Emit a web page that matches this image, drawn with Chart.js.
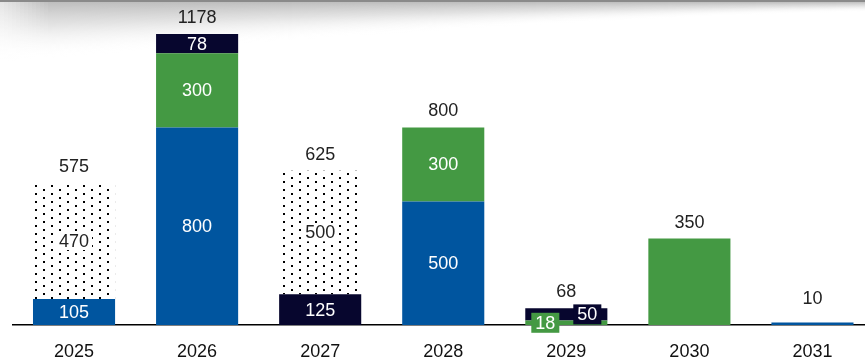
<!DOCTYPE html>
<html>
<head>
  <title>Stacked volumes by year</title>
  <script src="https://cdn.jsdelivr.net/npm/chart.js"></script>
  <style>
    html, body { margin: 0; padding: 0; background: #fff; overflow: hidden; }
    #wrap { position: relative; width: 874px; height: 360px; }
  </style>
</head>
<body>
  <div id="wrap"><canvas id="myChart"></canvas></div>

  <script>
// Datos (de abajo hacia arriba en cada barra)
const years = ['2025', '2026', '2027', '2028', '2029', '2030', '2031'];
const blueVals = [105, 800, null, 500, null, null, 10];
const greenVals = [null, 300, null, 300, 18, 350, null];
const navyVals = [null, 78, 125, null, 50, null, null];
const dottedVals = [470, null, 500, null, null, null, null];
const totals = [575, 1178, 625, 800, 68, 350, 10];

const FONT = '"Liberation Sans", Arial, sans-serif';

// patrón de puntos para el segmento punteado
function dotPattern() {
  const c = document.createElement('canvas');
  c.width = 16; c.height = 8;
  const g = c.getContext('2d');
  g.fillStyle = '#fff';
  g.fillRect(0, 0, 16, 8);
  g.fillStyle = '#000';
  g.fillRect(3, 1, 2, 2);
  g.fillRect(11, 5, 2, 2);
  return g.createPattern(c, 'repeat');
}

// sombra gris arriba (efecto papel)
const shadowPlugin = {
  id: 'shadow',
  beforeDraw(chart) {
    const ctx = chart.ctx;
    const w = chart.width;
    ctx.save();
    for (let x = 0; x < w; x += 4) {
      const t = x / 865;
      const h = 10 + 50 * Math.pow(Math.max(0, 1 - t), 1.4);
      const edge = Math.min(1, 0.4 + x / 80);
      const a = 0.45 * edge;
      const grad = ctx.createLinearGradient(0, 2, 0, 2 + h);
      grad.addColorStop(0, 'rgba(110,110,110,' + a + ')');
      grad.addColorStop(0.4, 'rgba(150,150,150,' + (a * 0.6) + ')');
      grad.addColorStop(1, 'rgba(255,255,255,0)');
      ctx.fillStyle = grad;
      ctx.fillRect(x, 2, 4, h);
    }
    ctx.fillStyle = '#8a8a8a';
    ctx.fillRect(0, 0, w, 2);
    ctx.restore();
  }
};

// etiquetas de valores y totales
const labelPlugin = {
  id: 'labels',
  afterDatasetsDraw(chart) {
    const ctx = chart.ctx;
    const yBase = chart.scales.y.getPixelForValue(0);
    ctx.save();
    ctx.font = '18px ' + FONT;
    ctx.textAlign = 'center';
    ctx.textBaseline = 'middle';
    years.forEach((yr, i) => {
      const segs = [];
      chart.data.datasets.forEach((ds, d) => {
        const v = ds.data[i];
        if (v == null) return;
        segs.push({ d, v, el: chart.getDatasetMeta(d).data[i], ds });
      });
      if (!segs.length) return;
      if (segs.length > 1) {
        const small = segs.filter(s => s.el.base - s.el.y < 16);
        segs.forEach(s => {
          let cx = s.el.x;
          const cy = (s.el.y + s.el.base) / 2;
          const k = small.indexOf(s);
          const isSmall = k >= 0;
          if (isSmall && small.length > 1) cx += (k - (small.length - 1) / 2) * 42;
          const txt = String(s.v);
          const tw = ctx.measureText(txt).width;
          if (s.ds.dotted) {
            ctx.fillStyle = '#fff';
            ctx.fillRect(cx - tw / 2 - 3, cy - 9, tw + 6, 18);
            ctx.fillStyle = '#222';
          } else if (isSmall) {
            ctx.fillStyle = s.ds.backgroundColor;
            ctx.fillRect(cx - tw / 2 - 4, cy - 10, tw + 8, 20);
            ctx.fillStyle = '#fff';
          } else {
            ctx.fillStyle = '#fff';
          }
          ctx.fillText(txt, cx, cy + 1);
        });
      }
      const top = Math.min(...segs.map(s => s.el.y));
      const x = segs[0].el.x;
      ctx.fillStyle = '#222';
      ctx.fillText(String(totals[i]), x, Math.min(top, yBase - 10) - 16);
    });
    ctx.restore();
  }
};

const ctx = document.getElementById('myChart').getContext('2d');
const dots = dotPattern();

new Chart(ctx, {
  type: 'bar',
  data: {
    labels: years,
    datasets: [
      { label: 'azul', data: blueVals, backgroundColor: '#00559f' },
      { label: 'verde', data: greenVals, backgroundColor: '#449943' },
      { label: 'marino', data: navyVals, backgroundColor: '#07062e' },
      { label: 'punteado', data: dottedVals, backgroundColor: dots, dotted: true }
    ]
  },
  options: {
    responsive: true,
    maintainAspectRatio: false,
    animation: false,
    devicePixelRatio: 1,
    layout: { padding: { top: 28.6, left: 12.5, right: 0, bottom: 0 } },
    datasets: { bar: { categoryPercentage: 1, barPercentage: 0.667, borderWidth: 0 } },
    plugins: { legend: { display: false }, tooltip: { enabled: false } },
    scales: {
      x: {
        stacked: true,
        grid: { display: false, drawTicks: false },
        border: { display: true, color: '#000', width: 1.5 },
        ticks: { color: '#111', font: { family: FONT, size: 18 }, padding: 16 },
        afterFit(scale) { scale.height = 35; }
      },
      y: {
        stacked: true,
        display: false,
        min: 0,
        max: 1200
      }
    }
  },
  plugins: [shadowPlugin, labelPlugin]
});
  </script>
</body>
</html>
